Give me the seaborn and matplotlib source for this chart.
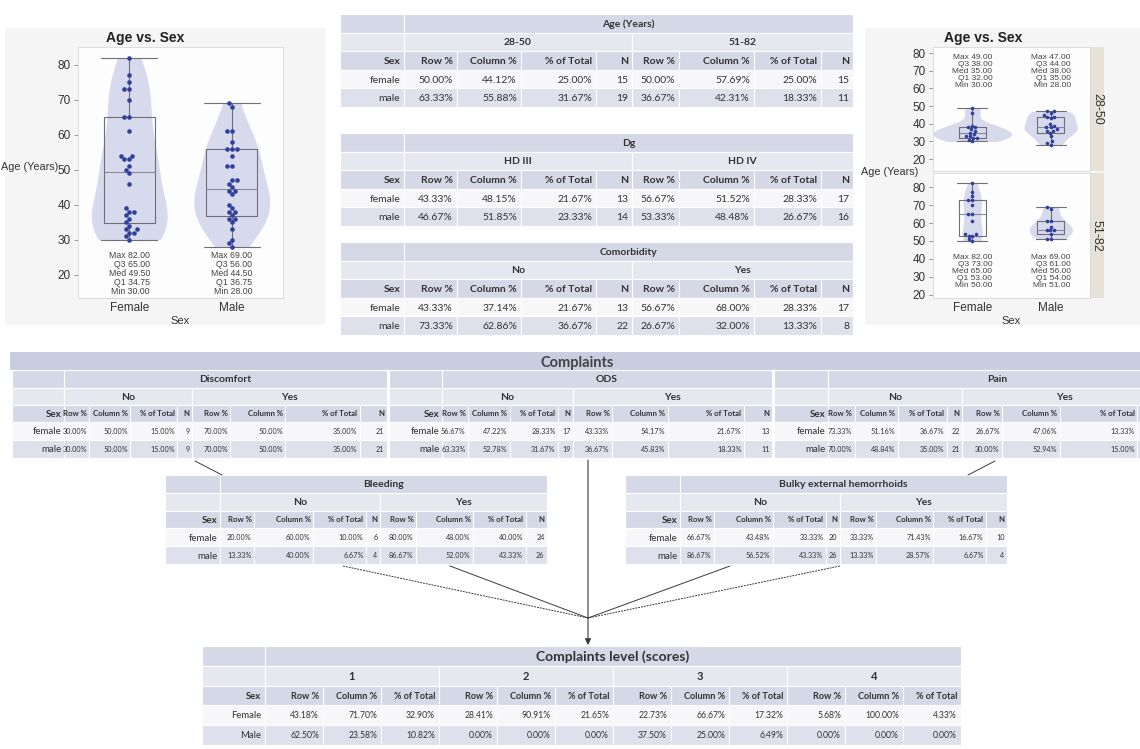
import numpy as np
import pandas as pd
import matplotlib
matplotlib.use("Agg")
import matplotlib.pyplot as plt
import seaborn as sns
from matplotlib.patches import Rectangle

# ---------------- data ----------------
SEXES = ["Female", "Male"]
AGE_BANDS = ["28-50", "51-82"]

FEMALE_28_50 = [30, 31, 32, 32, 33, 33, 34, 35, 36, 37, 38, 38, 39, 46, 49]
FEMALE_51_82 = [50, 51, 53, 53, 54, 54, 61, 65, 65, 70, 73, 73, 75, 77, 82]
MALE_28_50 = [28, 29, 30, 33, 35, 36, 36, 37, 38, 38, 39, 40, 43, 44, 44, 45, 46, 47, 47]
MALE_51_82 = [51, 51, 54, 56, 56, 56, 58, 61, 61, 68, 69]

STATS4 = ["Row %", "Column %", "% of Total", "N"]
STATS3 = ["Row %", "Column %", "% of Total"]
ROWS_LOWER = ["female", "male"]
ROWS_UPPER = ["Female", "Male"]
NO_YES = ["No", "Yes"]

AGE_GROUPS = ["28-50", "51-82"]
AGE_FEMALE = [50.00, 44.12, 25.00, 15, 50.00, 57.69, 25.00, 15]
AGE_MALE = [63.33, 55.88, 31.67, 19, 36.67, 42.31, 18.33, 11]

DG_GROUPS = ["HD III", "HD IV"]
DG_FEMALE = [43.33, 48.15, 21.67, 13, 56.67, 51.52, 28.33, 17]
DG_MALE = [46.67, 51.85, 23.33, 14, 53.33, 48.48, 26.67, 16]

COMORB_FEMALE = [43.33, 37.14, 21.67, 13, 56.67, 68.00, 28.33, 17]
COMORB_MALE = [73.33, 62.86, 36.67, 22, 26.67, 32.00, 13.33, 8]

DISCOMFORT_FEMALE = [30.00, 50.00, 15.00, 9, 70.00, 50.00, 35.00, 21]
DISCOMFORT_MALE = [30.00, 50.00, 15.00, 9, 70.00, 50.00, 35.00, 21]
ODS_FEMALE = [56.67, 47.22, 28.33, 17, 43.33, 54.17, 21.67, 13]
ODS_MALE = [63.33, 52.78, 31.67, 19, 36.67, 45.83, 18.33, 11]
PAIN_FEMALE = [73.33, 51.16, 36.67, 22, 26.67, 47.06, 13.33, 8]
PAIN_MALE = [70.00, 48.84, 35.00, 21, 30.00, 52.94, 15.00, 9]
BLEEDING_FEMALE = [20.00, 60.00, 10.00, 6, 80.00, 48.00, 40.00, 24]
BLEEDING_MALE = [13.33, 40.00, 6.67, 4, 86.67, 52.00, 43.33, 26]
BULKY_FEMALE = [66.67, 43.48, 33.33, 20, 33.33, 71.43, 16.67, 10]
BULKY_MALE = [86.67, 56.52, 43.33, 26, 13.33, 28.57, 6.67, 4]

LEVELS = ["1", "2", "3", "4"]
LEVEL_FEMALE = [43.18, 71.70, 32.90, 28.41, 90.91, 21.65, 22.73, 66.67, 17.32, 5.68, 100.00, 4.33]
LEVEL_MALE = [62.50, 23.58, 10.82, 0.00, 0.00, 0.00, 37.50, 25.00, 6.49, 0.00, 0.00, 0.00]

# ---------------- style ----------------
sns.set_theme(style="white")
plt.rcParams["font.family"] = ["Lato", "DejaVu Sans"]
PLOT_FONT = ["Liberation Sans", "DejaVu Sans"]

TXT = "#333333"
TITLE_BG = "#d5d8e6"
GROUP_BG = "#e6e8f0"
HEAD_BG = "#d5d8e6"
ODD_BG = "#f7f7f9"
EVEN_BG = "#dee1eb"
BAR_BG = "#c8cddf"
PANEL_BG = "#f5f5f5"
VIOLIN = "#d7d9ec"
DOT = "#2f3f9c"
STRIP = "#e7e2d8"

W, H = 1140, 749
fig = plt.figure(figsize=(W / 100, H / 100), dpi=100)
bg = fig.add_axes([0, 0, 1, 1], zorder=0)
bg.set_xlim(0, W)
bg.set_ylim(H, 0)
bg.axis("off")


def frect(x, y, w, h):
    return [x / W, 1 - (y + h) / H, w / W, h / H]


# ---------------- violin panels ----------------
records = []
for sex, band, ages in [("Female", "28-50", FEMALE_28_50), ("Female", "51-82", FEMALE_51_82),
                        ("Male", "28-50", MALE_28_50), ("Male", "51-82", MALE_51_82)]:
    for a in ages:
        records.append({"Sex": sex, "Band": band, "Age": a})
df = pd.DataFrame(records)


def violin_panel(ax, sub, width, norm, box_w, dot_size, text_y, text_fs):
    sns.violinplot(data=sub, x="Sex", y="Age", order=SEXES, cut=0, inner=None,
                   color=VIOLIN, saturation=1, linewidth=0, width=width,
                   density_norm=norm, ax=ax)
    stats = []
    for s in SEXES:
        a = sub.loc[sub.Sex == s, "Age"].to_numpy(dtype=float)
        q1, med, q3 = np.percentile(a, [25, 50, 75], method="weibull")
        stats.append(dict(med=med, q1=q1, q3=q3, whislo=a.min(), whishi=a.max(), fliers=[]))
    line = dict(color="#6e6e78", lw=0.8)
    ax.bxp(stats, positions=[0, 1], widths=box_w, capwidths=box_w * 1.1, manage_ticks=False,
           boxprops=line, whiskerprops=line, capprops=line,
           medianprops=dict(color="#8a8a96", lw=0.8), zorder=3)
    sns.swarmplot(data=sub, x="Sex", y="Age", order=SEXES, color=DOT, size=dot_size,
                  ax=ax, zorder=4)
    for i, st in enumerate(stats):
        ax.text(i, text_y,
                f"Max {st['whishi']:.2f}\nQ3 {st['q3']:.2f}\nMed {st['med']:.2f}\n"
                f"Q1 {st['q1']:.2f}\nMin {st['whislo']:.2f}",
                ha="center", va="center", multialignment="right", fontsize=text_fs,
                color="#444444", linespacing=1.0, family=PLOT_FONT, zorder=5)
    ax.set_xlim(-0.5, 1.5)
    ax.set_facecolor("#fdfdfd")
    for sp in ax.spines.values():
        sp.set_color("#d8d8d8")
        sp.set_linewidth(0.6)
    ax.set_yticks([20, 30, 40, 50, 60, 70, 80])
    ax.tick_params(axis="y", length=3, width=0.6, color="#888888", labelsize=8.5,
                   labelcolor=TXT, pad=2, left=True)
    ax.tick_params(axis="x", length=0, labelsize=8.5, labelcolor=TXT, pad=3)
    for lab in ax.get_yticklabels() + ax.get_xticklabels():
        lab.set_family(PLOT_FONT)
    ax.set_xlabel("")
    ax.set_ylabel("")


bg.add_patch(Rectangle((5, 28), 320, 297, fc=PANEL_BG, ec="none"))
bg.add_patch(Rectangle((865, 28), 280, 297, fc=PANEL_BG, ec="none"))

ax_l = fig.add_axes(frect(78, 47, 205, 251), zorder=2)
violin_panel(ax_l, df, 0.74, "width", 0.5, 3.3, 20.4, 6.3)
ax_l.set_ylim(13.4, 85.1)
ax_l.set_xlabel("Sex", fontsize=8, color=TXT, family=PLOT_FONT, labelpad=1)
ax_l.set_ylabel("Age (Years)", fontsize=7.8, color=TXT, family=PLOT_FONT, rotation=0)
ax_l.yaxis.set_label_coords(-0.235, 0.5)
bg.text(145, 38, "Age vs. Sex", ha="center", va="center", fontsize=10, weight="bold",
        color="#222222", family=PLOT_FONT)

ax_rt = fig.add_axes(frect(933, 47, 157, 124), zorder=2)
violin_panel(ax_rt, df[df.Band == AGE_BANDS[0]], 1.0, "area", 0.35, 2.6, 69.6, 6.0)
ax_rt.set_ylim(13.3, 83.4)
ax_rt.set_xticklabels([])

ax_rb = fig.add_axes(frect(933, 173, 157, 125), zorder=2)
violin_panel(ax_rb, df[df.Band == AGE_BANDS[1]], 0.55, "area", 0.35, 2.6, 33.3, 6.0)
ax_rb.set_ylim(18.3, 87.8)
ax_rb.set_xlabel("Sex", fontsize=8, color=TXT, family=PLOT_FONT, labelpad=1)
bg.text(890, 172, "Age (Years)", ha="center", va="center", fontsize=7.8, color=TXT,
        family=PLOT_FONT)
bg.text(983, 38, "Age vs. Sex", ha="center", va="center", fontsize=10, weight="bold",
        color="#222222", family=PLOT_FONT)
for (y0, y1), band in zip([(47, 171), (173, 298)], AGE_BANDS):
    bg.add_patch(Rectangle((1090, y0), 14, y1 - y0, fc=STRIP, ec="none"))
    bg.text(1097, (y0 + y1) / 2, band, rotation=270, ha="center", va="center",
            fontsize=9, color=TXT, family=PLOT_FONT)


# ---------------- cross tables ----------------
def crosstab(x0, y0, widths, heights, title, groups, headers, labels, rows, fs):
    edges = x0 + np.concatenate([[0], np.cumsum(widths)])
    ys = y0 + np.concatenate([[0], np.cumsum(heights)])
    per = len(headers)
    right = edges[-1]
    pad = fs.get("pad", 3)

    def cell(xa, xb, ya, yb, color):
        bg.add_patch(Rectangle((xa, ya), xb - xa, yb - ya, fc=color, ec="white", lw=0.8))

    def put(x, r, s, ha, size, bold=False):
        bg.text(x, (ys[r] + ys[r + 1]) / 2, s, ha=ha, va="center_baseline", fontsize=size,
                weight="bold" if bold else "normal", color=TXT, clip_on=False)

    cell(edges[0], edges[1], ys[0], ys[1], TITLE_BG)
    cell(edges[1], right, ys[0], ys[1], TITLE_BG)
    put((edges[1] + right) / 2, 0, title, "center", fs["title"], True)
    cell(edges[0], edges[1], ys[1], ys[2], GROUP_BG)
    for g, name in enumerate(groups):
        xa, xb = edges[1 + g * per], edges[1 + (g + 1) * per]
        cell(xa, xb, ys[1], ys[2], GROUP_BG)
        put((xa + xb) / 2, 1, name, "center", fs["group"], True)
    for c in range(len(widths)):
        cell(edges[c], edges[c + 1], ys[2], ys[3], HEAD_BG)
        if c == 0:
            put(edges[1] - pad, 2, "Sex", "right", fs["label"], True)
        else:
            put(edges[c + 1] - pad, 2, headers[(c - 1) % per], "right", fs["head"], True)
    for r, (lab, vals) in enumerate(zip(labels, rows)):
        rr = 3 + r
        color = ODD_BG if r % 2 == 0 else EVEN_BG
        for c in range(len(widths)):
            cell(edges[c], edges[c + 1], ys[rr], ys[rr + 1], color)
        put(edges[1] - pad, rr, lab, "right", fs["label"])
        for c, v in enumerate(vals):
            hdr = headers[c % per]
            s = f"{v:.2f}%" if "%" in hdr else f"{int(v)}"
            put(edges[c + 2] - pad, rr, s, "right", fs["cell"])


TOP_W = [64, 53, 64, 75, 36, 47, 75, 67, 32]
TOP_H = [18.6] * 5
TOP_FS = dict(title=7.5, group=7.5, head=7.5, label=7.5, cell=7.5, pad=4)
crosstab(340, 14, TOP_W, TOP_H, "Age (Years)", AGE_GROUPS, STATS4, ROWS_LOWER,
         [AGE_FEMALE, AGE_MALE], TOP_FS)
crosstab(340, 133, TOP_W, TOP_H, "Dg", DG_GROUPS, STATS4, ROWS_LOWER,
         [DG_FEMALE, DG_MALE], TOP_FS)
crosstab(340, 242, TOP_W, TOP_H, "Comorbidity", NO_YES, STATS4, ROWS_LOWER,
         [COMORB_FEMALE, COMORB_MALE], TOP_FS)

# complaints block
bg.add_patch(Rectangle((10, 352), 1135, 18, fc=BAR_BG, ec="none"))
bg.text(577, 361, "Complaints", ha="center", va="center_baseline", fontsize=10.5,
        weight="bold", color="#444444")

SUB_W = np.array([53, 26, 42, 48, 15, 39, 56, 76, 28], dtype=float)
SUB_H = [18, 17, 17, 18, 18]
SUB_FS = dict(title=7.5, group=7.5, head=5.6, label=7, cell=5.2, pad=2.5)
crosstab(12, 370, SUB_W * 375 / SUB_W.sum(), SUB_H, "Discomfort", NO_YES, STATS4,
         ROWS_LOWER, [DISCOMFORT_FEMALE, DISCOMFORT_MALE], SUB_FS)
crosstab(389, 370, SUB_W * 383 / SUB_W.sum(), SUB_H, "ODS", NO_YES, STATS4,
         ROWS_LOWER, [ODS_FEMALE, ODS_MALE], SUB_FS)
crosstab(774, 370, SUB_W * 392 / SUB_W.sum(), SUB_H, "Pain", NO_YES, STATS4,
         ROWS_LOWER, [PAIN_FEMALE, PAIN_MALE], SUB_FS)

LOW_W = [55, 34, 59, 53, 14, 36, 57, 53, 21]
LOW_H = [17.8] * 5
crosstab(165, 475, LOW_W, LOW_H, "Bleeding", NO_YES, STATS4, ROWS_LOWER,
         [BLEEDING_FEMALE, BLEEDING_MALE], SUB_FS)
crosstab(625, 475, LOW_W, LOW_H, "Bulky external hemorrhoids", NO_YES, STATS4, ROWS_LOWER,
         [BULKY_FEMALE, BULKY_MALE], SUB_FS)

LEVEL_W = [63] + [58] * 12
LEVEL_H = [20, 19.5, 19.5, 20, 20]
LEVEL_FS = dict(title=10, group=8, head=6.6, label=6.8, cell=6.2, pad=4)
crosstab(202, 646, LEVEL_W, LEVEL_H, "Complaints level (scores)", LEVELS, STATS3,
         ROWS_UPPER, [LEVEL_FEMALE, LEVEL_MALE], LEVEL_FS)

# connectors between the tables
LINE = "#3a3a3a"
hub = (588, 618)
bg.plot([195, 222], [461, 475], color=LINE, lw=0.7)
bg.plot([995, 968], [461, 475], color=LINE, lw=0.7)
bg.plot([343, hub[0]], [566, hub[1]], color=LINE, lw=0.7, ls=(0, (2, 1)))
bg.plot([450, hub[0]], [566, hub[1]], color=LINE, lw=0.7)
bg.plot([730, hub[0]], [566, hub[1]], color=LINE, lw=0.7)
bg.plot([840, hub[0]], [566, hub[1]], color=LINE, lw=0.7, ls=(0, (2, 1)))
bg.annotate("", xy=(588, 645), xytext=(588, 460),
            arrowprops=dict(arrowstyle="-|>", color=LINE, lw=0.8, mutation_scale=9,
                            shrinkA=0, shrinkB=0))

fig.savefig("out.png", dpi=100)
